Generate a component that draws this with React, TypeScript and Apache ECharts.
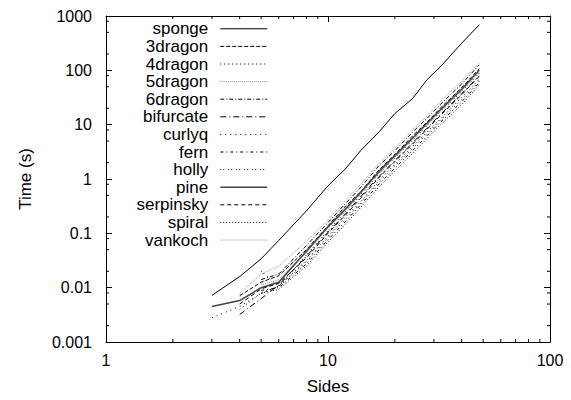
import React, { useEffect, useRef } from "react";
import * as echarts from "echarts";

// Number of sides at which each fractal was timed
const SIDES = [3, 4, 5, 6, 8, 10, 12, 14, 17, 20, 24, 28, 32, 40, 48];

// Time (s) per series, aligned with SIDES (null = not measured)
const sponge = [0.0072, 0.016, 0.034, 0.074, 0.26, 0.75, 1.55, 3.3, 7.4, 16, 30, 68, 115, 315, 690];
const dragon3 = [null, 0.0071, 0.0126, 0.0166, 0.05, 0.138, 0.316, 0.575, 1.48, 2.82, 6.17, 11.2, 20, 47.9, 107];
const dragon4 = [null, 0.004, 0.0079, 0.0107, 0.0316, 0.089, 0.2, 0.38, 0.955, 1.86, 3.98, 7.41, 12.6, 31.6, 69];
const dragon5 = [null, null, 0.0112, 0.0141, 0.0447, 0.126, 0.263, 0.537, 1.32, 2.51, 5.37, 10, 17.4, 42.7, 93];
const dragon6 = [null, null, 0.0141, 0.0178, 0.06, 0.158, 0.355, 0.69, 1.78, 3.31, 7.24, 13.2, 23.4, 56, 126];
const bifurcate = [null, 0.0032, 0.0063, 0.0112, 0.038, 0.105, 0.229, 0.468, 1.12, 2.19, 4.57, 8.71, 15.1, 37.2, 79];
const curlyq = [0.0028, 0.0045, 0.0079, 0.0105, 0.03, 0.083, 0.182, 0.355, 0.89, 1.74, 3.63, 6.92, 12, 28.8, 63];
const fern = [null, null, 0.0089, 0.01, 0.0275, 0.076, 0.166, 0.331, 0.81, 1.58, 3.31, 6.31, 11, 26.3, 59];
const holly = [null, null, 0.02, 0.0105, 0.04, 0.112, 0.251, 0.513, 1.26, 2.45, 5.13, 9.77, 17, 40.7, 89];
const pine = [0.0045, 0.0058, 0.01, 0.0126, 0.047, 0.132, 0.282, 0.562, 1.38, 2.69, 5.62, 10.7, 18.6, 44.7, 100];
const serpinsky = [null, 0.005, 0.0095, 0.012, 0.0355, 0.1, 0.219, 0.437, 1.07, 2.09, 4.37, 8.32, 14.5, 35.5, 78];
const spiral = [null, null, 0.0079, 0.0093, 0.0251, 0.069, 0.148, 0.295, 0.724, 1.41, 2.95, 5.62, 9.77, 23.4, 54];
const vankoch = [null, 0.0079, 0.0178, 0.0251, 0.0708, 0.178, 0.398, 0.794, 1.95, 3.72, 7.94, 14.8, 26.3, 63, 138];

const SERIES_NAMES = ["sponge", "3dragon", "4dragon", "5dragon", "6dragon", "bifurcate", "curlyq", "fern", "holly", "pine", "serpinsky", "spiral", "vankoch"];
const SERIES_VALUES = [sponge, dragon3, dragon4, dragon5, dragon6, bifurcate, curlyq, fern, holly, pine, serpinsky, spiral, vankoch];

// Axis ranges and minor tick positions
const X_MIN = 1;
const X_MAX = 100;
const Y_MIN = 0.001;
const Y_MAX = 1000;
const X_MINOR = [2, 3, 4, 5, 6, 7, 8, 9, 20, 30, 40, 50, 60, 70, 80, 90];
const Y_MINOR = [0.002, 0.005, 0.008, 0.02, 0.05, 0.08, 0.2, 0.5, 0.8, 2, 5, 8, 20, 50, 80, 200, 500, 800];

const FONT = "'Liberation Sans', Arial, Helvetica, sans-serif";

const LINE_STYLES: Record<string, { color: string; width: number; type: any }> = {
  sponge: { color: "#000", width: 1, type: "solid" },
  "3dragon": { color: "#000", width: 1, type: [4, 2] },
  "4dragon": { color: "#000", width: 1, type: [1, 3] },
  "5dragon": { color: "#888", width: 1, type: [1, 1] },
  "6dragon": { color: "#000", width: 1, type: [4, 2, 1, 2] },
  bifurcate: { color: "#000", width: 1, type: [6, 3, 1, 3] },
  curlyq: { color: "#000", width: 1, type: [1, 4] },
  fern: { color: "#000", width: 1, type: [3, 3, 1, 3] },
  holly: { color: "#000", width: 1, type: [1, 2, 1, 4] },
  pine: { color: "#444", width: 1.5, type: "solid" },
  serpinsky: { color: "#000", width: 1, type: [4, 3] },
  spiral: { color: "#000", width: 1, type: [1, 2] },
  vankoch: { color: "#999", width: 1, type: [1, 1] },
};

const fmt = (v: number) => String(parseFloat(Number(v).toPrecision(4)));

export default function App() {
  const ref = useRef<HTMLDivElement>(null);

  useEffect(() => {
    if (!ref.current) return;
    const chart = echarts.init(ref.current, undefined, { renderer: "svg" });

    const lineSeries = SERIES_NAMES.map((name, i) => ({
      name,
      type: "line",
      xAxisIndex: 0,
      yAxisIndex: 0,
      symbol: "none",
      showSymbol: false,
      connectNulls: false,
      lineStyle: LINE_STYLES[name],
      itemStyle: { color: LINE_STYLES[name].color },
      emphasis: { disabled: true },
      data: SIDES.map((s, k) => (SERIES_VALUES[i][k] == null ? null : [s, SERIES_VALUES[i][k]])).filter((d) => d !== null),
      z: 3,
    }));

    const tickData = [
      ...X_MINOR.map((v) => [v, Y_MIN, 0]),
      ...Y_MINOR.map((v) => [X_MIN, v, 1]),
    ];

    const minorTicks = {
      type: "custom",
      xAxisIndex: 0,
      yAxisIndex: 0,
      silent: true,
      clip: false,
      z: 5,
      encode: { x: 0, y: 1 },
      data: tickData,
      renderItem: (params: any, api: any) => {
        const kind = api.value(2);
        const style = { stroke: "#000", lineWidth: 1 };
        if (kind === 0) {
          const v = api.value(0);
          const b = api.coord([v, Y_MIN]);
          const t = api.coord([v, Y_MAX]);
          return {
            type: "group",
            children: [
              { type: "line", shape: { x1: b[0], y1: b[1], x2: b[0], y2: b[1] - 3 }, style },
              { type: "line", shape: { x1: t[0], y1: t[1], x2: t[0], y2: t[1] + 3 }, style },
            ],
          };
        }
        const v = api.value(1);
        const l = api.coord([X_MIN, v]);
        const r = api.coord([X_MAX, v]);
        return {
          type: "group",
          children: [
            { type: "line", shape: { x1: l[0], y1: l[1], x2: l[0] + 3, y2: l[1] }, style },
            { type: "line", shape: { x1: r[0], y1: r[1], x2: r[0] - 3, y2: r[1] }, style },
          ],
        };
      },
    };

    const axisLine = { show: true, onZero: false, lineStyle: { color: "#000", width: 1 } };
    const axisTick = { show: true, inside: true, length: 6, lineStyle: { color: "#000", width: 1 } };

    chart.setOption({
      animation: false,
      backgroundColor: "#fff",
      grid: { left: 106, right: 21, top: 16, bottom: 57, containLabel: false },
      legend: {
        orient: "vertical",
        align: "right",
        right: 303,
        top: 20,
        padding: 0,
        itemGap: 0,
        itemWidth: 47,
        itemHeight: 10,
        selectedMode: false,
        data: SERIES_NAMES,
        itemStyle: { opacity: 0 },
        lineStyle: { width: "inherit" },
        textStyle: { fontFamily: FONT, fontSize: 17, color: "#000", lineHeight: 17.6, padding: [0, 7, 0, 0] },
      },
      xAxis: [
        {
          type: "log",
          logBase: 10,
          min: X_MIN,
          max: X_MAX,
          position: "bottom",
          name: "Sides",
          nameLocation: "middle",
          nameGap: 36,
          nameTextStyle: { fontFamily: FONT, fontSize: 17, color: "#000" },
          axisLine,
          axisTick,
          minorTick: { show: false },
          splitLine: { show: false },
          axisLabel: { fontFamily: FONT, fontSize: 16, color: "#000", margin: 10, formatter: fmt },
        },
        {
          type: "log",
          logBase: 10,
          min: X_MIN,
          max: X_MAX,
          position: "top",
          axisLine,
          axisTick,
          splitLine: { show: false },
          axisLabel: { show: false },
        },
      ],
      yAxis: [
        {
          type: "log",
          logBase: 10,
          min: Y_MIN,
          max: Y_MAX,
          splitNumber: 6,
          position: "left",
          name: "Time (s)",
          nameLocation: "middle",
          nameRotate: 90,
          nameGap: 72,
          nameTextStyle: { fontFamily: FONT, fontSize: 17, color: "#000" },
          axisLine,
          axisTick,
          splitLine: { show: false },
          axisLabel: { fontFamily: FONT, fontSize: 16, color: "#000", margin: 14, formatter: fmt },
        },
        {
          type: "log",
          logBase: 10,
          min: Y_MIN,
          max: Y_MAX,
          splitNumber: 6,
          position: "right",
          axisLine,
          axisTick,
          splitLine: { show: false },
          axisLabel: { show: false },
        },
      ],
      series: [...lineSeries, minorTicks],
    });

    return () => chart.dispose();
  }, []);

  return <div ref={ref} style={{ position: "absolute", left: 0, top: 0, width: 571, height: 400 }} />;
}
